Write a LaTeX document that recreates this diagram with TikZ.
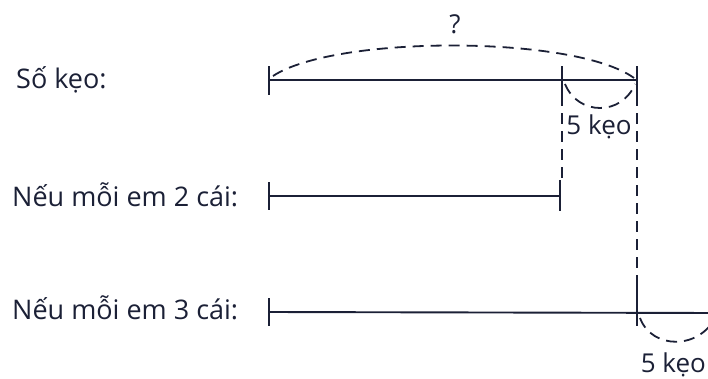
\documentclass[tikz,border=0pt]{standalone}
\usepackage{fontspec}
\setmainfont{Open Sans}
\definecolor{ink}{HTML}{1B2036}
\begin{document}
\begin{tikzpicture}[x=1pt,y=-1pt,
  seg/.style={draw=ink,line width=1.9pt},
  tick/.style={draw=ink,line width=1.9pt},
  dsh/.style={draw=ink,line width=1.8pt,dash pattern=on 11pt off 7pt},
  lbl/.style={text=ink,font=\fontsize{27}{32}\selectfont,inner sep=0pt},
  sm/.style={text=ink,font=\fontsize{26}{30}\selectfont,inner sep=0pt}]
\useasboundingbox (0,0) rectangle (708,378);
\clip (0,0) rectangle (708,378);
% labels
\node[lbl,anchor=west] (l1) at (16,80) {Số kẹo:};
\node[lbl,anchor=west] (l2) at (12,195) {Nếu mỗi em 2 cái:};
\node[lbl,anchor=west] (l3) at (12,308) {Nếu mỗi em 3 cái:};
% row 1
\coordinate (a1) at (269,80);
\coordinate (m1) at (562,80);
\coordinate (b1) at (637,80);
\draw[seg] (a1) -- (b1);
\draw[tick] (269,66) -- (269,95);
\draw[tick] (562,66) -- (562,95);
\draw[tick] (637,66) -- (637,95);
\draw[dsh] (273,76) .. controls (335,35) and (575,35) .. (634,78);
\node[sm] (q) at (455,24) {?};
\draw[dsh] (565,84) .. controls (578,116) and (622,116) .. (635,84);
\node[sm] (k1) at (599,127) {5 kẹo};
% row 2
\coordinate (a2) at (269,196);
\coordinate (b2) at (560,196);
\draw[seg] (a2) -- (b2);
\draw[tick] (269,182) -- (269,210);
\draw[tick] (560,180) -- (560,211);
\draw[dsh] (562,95) -- (562,180);
% row 3
\coordinate (a3) at (269,312);
\coordinate (b3) at (720,313);
\draw[seg] (a3) -- (b3);
\draw[tick] (269,298) -- (269,326);
\draw[tick] (637,285) -- (637,326);
\draw[dsh] (637,95) -- (637,285);
\draw[dsh] (640,318) .. controls (652,350) and (700,350) .. (716,316);
\node[sm,anchor=east] (k2) at (706,365) {5 kẹo};
\end{tikzpicture}
\end{document}
